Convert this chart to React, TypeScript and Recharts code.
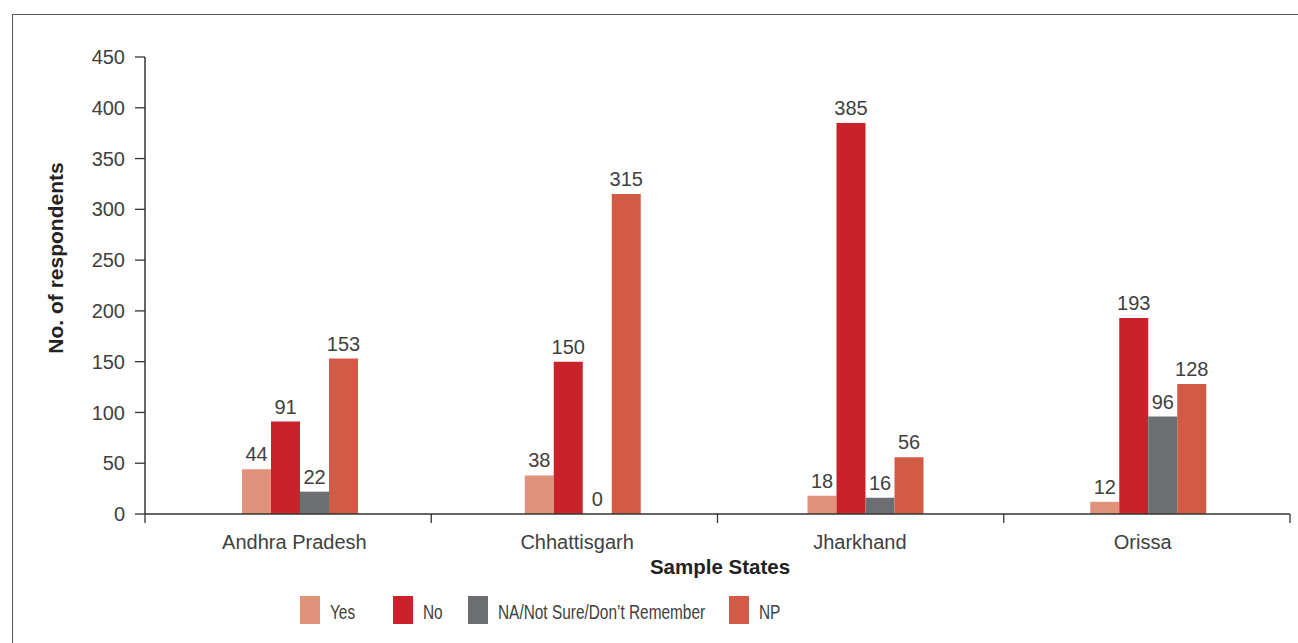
import React from 'react';
import { BarChart, Bar, XAxis, YAxis, LabelList, Label } from 'recharts';

const states = ['Andhra Pradesh', 'Chhattisgarh', 'Jharkhand', 'Orissa'];
const yesValues = [44, 38, 18, 12];
const noValues = [91, 150, 385, 193];
const naValues = [22, 0, 16, 96];
const npValues = [153, 315, 56, 128];
const yTicks = [0, 50, 100, 150, 200, 250, 300, 350, 400, 450];

const seriesList = [
  { key: 'yes', name: 'Yes', color: '#E0937A' },
  { key: 'no', name: 'No', color: '#C9222B' },
  { key: 'na', name: 'NA/Not Sure/Don\u2019t Remember', color: '#6D6E72' },
  { key: 'np', name: 'NP', color: '#D25B45' },
];

const data = states.map((state, i) => ({
  state,
  yes: yesValues[i],
  no: noValues[i],
  na: naValues[i],
  np: npValues[i],
}));

const FONT = '"Liberation Sans", Arial, Helvetica, sans-serif';
const TEXT = '#404040';
const AXIS = '#333';

const CHART_W = 1298;
const CHART_H = 643;
const PLOT_LEFT = 145;
const PLOT_RIGHT = 1290;
const BAND = (PLOT_RIGHT - PLOT_LEFT) / states.length;

// tick marks sit on the band edges, not under the labels
function StateTick(props: any) {
  const { x, y, payload, index } = props;
  const left = PLOT_LEFT + index * BAND;
  return (
    <g>
      <line x1={left} y1={y} x2={left} y2={y + 9} stroke={AXIS} strokeWidth={1.3} />
      {index === states.length - 1 && (
        <line x1={left + BAND} y1={y} x2={left + BAND} y2={y + 9} stroke={AXIS} strokeWidth={1.3} />
      )}
      <text x={x - 6} y={y + 35} textAnchor="middle" fontSize={20} fill={TEXT} fontFamily={FONT}>
        {payload.value}
      </text>
    </g>
  );
}

function ValueLabel(props: any) {
  const { x, y, width, value } = props;
  return (
    <text x={x + width / 2} y={y - 8} textAnchor="middle" fontSize={20} fill={TEXT} fontFamily={FONT}>
      {value}
    </text>
  );
}

const legendSwatchX = [300, 393, 468, 729];

function LegendRow() {
  return (
    <div style={{ fontFamily: FONT, fontSize: 20, color: TEXT }}>
      {seriesList.map((s, i) => (
        <div
          key={s.key}
          style={{ position: 'absolute', left: legendSwatchX[i], top: 596, display: 'flex', alignItems: 'center', height: 28 }}
        >
          <div style={{ width: 20, height: 28, background: s.color, marginRight: 10 }} />
          <span
            style={{
              display: 'inline-block',
              whiteSpace: 'nowrap',
              paddingTop: 5,
              transform: 'scaleX(0.77)',
              transformOrigin: 'left center',
            }}
          >
            {s.name}
          </span>
        </div>
      ))}
    </div>
  );
}

export default function App() {
  return (
    <div
      style={{
        position: 'fixed',
        left: 0,
        top: 0,
        width: CHART_W,
        height: CHART_H,
        background: '#fff',
        overflow: 'hidden',
      }}
    >
      <div
        style={{
          position: 'absolute',
          left: 12,
          top: 14,
          width: 1400,
          height: 800,
          borderLeft: '1.5px solid #555',
          borderTop: '1.5px solid #555',
        }}
      />
      <div style={{ position: 'absolute', left: 0, top: 0 }}>
        <BarChart
          width={CHART_W}
          height={CHART_H}
          data={data}
          margin={{ top: 57, right: CHART_W - PLOT_RIGHT, left: PLOT_LEFT - 70, bottom: 99 }}
          barGap={0}
          barSize={29}
        >
          <XAxis
            dataKey="state"
            height={30}
            padding={{ left: 14, right: 0 }}
            axisLine={{ stroke: AXIS, strokeWidth: 1.5 }}
            tickLine={false}
            tickSize={0}
            tickMargin={0}
            tick={<StateTick />}
            interval={0}
          >
            <Label
              content={() => (
                <text x={720} y={574} textAnchor="middle" fontSize={20.5} fontWeight={700} fill="#222" fontFamily={FONT}>
                  Sample States
                </text>
              )}
            />
          </XAxis>
          <YAxis
            width={70}
            domain={[0, 450]}
            ticks={yTicks}
            interval={0}
            axisLine={{ stroke: AXIS, strokeWidth: 1.5 }}
            tickLine={{ stroke: AXIS, strokeWidth: 1.3 }}
            tickSize={10}
            tickMargin={10}
            tick={{ fontSize: 20, fill: TEXT, fontFamily: FONT }}
          >
            <Label
              content={() => (
                <text
                  x={63}
                  y={258}
                  transform="rotate(-90 63 258)"
                  textAnchor="middle"
                  fontSize={21}
                  fontWeight={700}
                  fill="#222"
                  fontFamily={FONT}
                >
                  No. of respondents
                </text>
              )}
            />
          </YAxis>
          {seriesList.map((s) => (
            <Bar
              key={s.key}
              dataKey={s.key}
              name={s.name}
              fill={s.color}
              minPointSize={(v: number) => (v === 0 ? 0.01 : 0)}
              isAnimationActive={false}
            >
              <LabelList dataKey={s.key} content={<ValueLabel />} />
            </Bar>
          ))}
        </BarChart>
      </div>
      <LegendRow />
    </div>
  );
}
